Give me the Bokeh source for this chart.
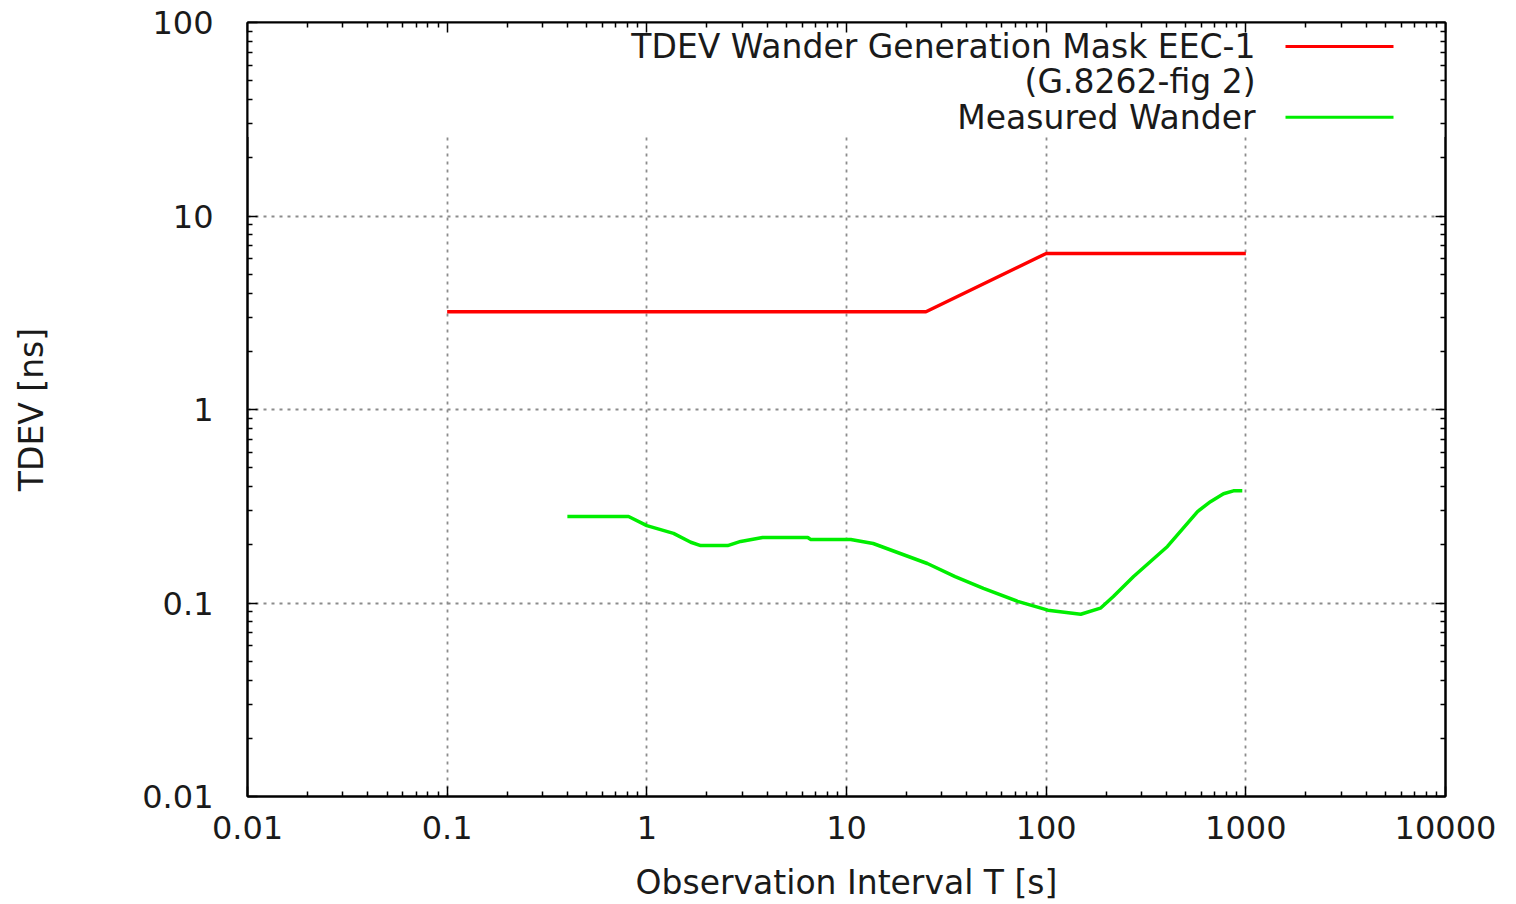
from bokeh.plotting import figure
from bokeh.models import Range1d, FixedTicker, LogAxis, CustomJSTickFormatter, Label, Arrow, BoxAnnotation
from bokeh.embed import file_html
from bokeh.resources import INLINE
import math

# ---- data ----
x_ticks = [0.01, 0.1, 1, 10, 100, 1000, 10000]
y_ticks = [0.01, 0.1, 1, 10, 100]

mask_label = "TDEV Wander Generation Mask EEC-1"
mask_label2 = "(G.8262-fig 2)"
mask_t = [0.1, 25, 100, 1000]
mask_tdev = [3.2, 3.2, 6.4, 6.4]

meas_label = "Measured Wander"
meas_t = [0.4, 0.81, 1.0, 1.36, 1.66, 1.86, 2.54, 2.95, 3.8, 6.4, 6.6, 10.5, 13.6,
          25.4, 35, 48.5, 72, 102, 149, 187, 217, 274, 405, 573, 665, 773, 867, 960]
meas_tdev = [0.28, 0.28, 0.251, 0.229, 0.206, 0.198, 0.198, 0.208, 0.218, 0.218, 0.213,
             0.213, 0.203, 0.160, 0.137, 0.119, 0.102, 0.0918, 0.0875, 0.094, 0.108,
             0.137, 0.196, 0.297, 0.334, 0.367, 0.380, 0.380]

FONT = "DejaVu Sans"
TXT = "#1a1a1a"
TICK_FS = "32px"
LAB_FS = "33px"

p = figure(width=1516, height=904, x_axis_type="log", y_axis_type="log",
           x_range=Range1d(0.01, 10000), y_range=Range1d(0.01, 100),
           output_backend="svg", toolbar_location=None,
           min_border_left=247, min_border_right=71, min_border_top=22, min_border_bottom=105)
p.background_fill_color = "white"
p.border_fill_color = "white"
p.outline_line_color = "black"
p.outline_line_width = 2

def minors(majors):
    out = []
    for m in majors[:-1]:
        out += [m * k for k in range(2, 10)]
    return out

fmt = CustomJSTickFormatter(code="return tick < 1 ? tick.toString() : tick.toFixed(0);")
blank = CustomJSTickFormatter(code="return '';")

def style_axis(ax, ticks, labels=True):
    ax.ticker = FixedTicker(ticks=ticks, minor_ticks=minors(ticks))
    ax.axis_line_color = "black"
    ax.axis_line_width = 2
    ax.major_tick_in = 10
    ax.major_tick_out = 0
    ax.minor_tick_in = 5
    ax.minor_tick_out = 0
    ax.major_tick_line_color = "black"
    ax.minor_tick_line_color = "black"
    ax.major_tick_line_width = 1.5
    ax.minor_tick_line_width = 1.5
    ax.major_label_text_font = FONT
    ax.major_label_text_font_size = TICK_FS if labels else "0px"
    ax.major_label_text_color = TXT
    ax.formatter = fmt if labels else blank
    ax.axis_label_text_font = FONT
    ax.axis_label_text_font_size = LAB_FS
    ax.axis_label_text_font_style = "normal"
    ax.axis_label_text_color = TXT

style_axis(p.xaxis[0], x_ticks)
style_axis(p.yaxis[0], y_ticks)
p.xaxis[0].axis_label = "Observation Interval T [s]"
p.yaxis[0].axis_label = "TDEV [ns]"
p.xaxis[0].major_label_standoff = 19
p.xaxis[0].axis_label_standoff = 21
p.yaxis[0].major_label_standoff = 34
p.yaxis[0].axis_label_standoff = 88

top_ax = LogAxis()
right_ax = LogAxis()
style_axis(top_ax, x_ticks, labels=False)
style_axis(right_ax, y_ticks, labels=False)
top_ax.major_label_standoff = 0
right_ax.major_label_standoff = 0
p.add_layout(top_ax, "above")
p.add_layout(right_ax, "right")

p.xgrid[0].ticker = FixedTicker(ticks=x_ticks)
p.ygrid[0].ticker = FixedTicker(ticks=y_ticks)
for g in (p.xgrid[0], p.ygrid[0]):
    g.grid_line_color = "#8c8c8c"
    g.grid_line_width = 1.8
    g.grid_line_dash = "3 5"

# ---- legend helpers ----
def fx(frac):  # fraction of frame width -> log data x
    lo, hi = math.log10(0.01), math.log10(10000)
    return 10 ** (lo + frac * (hi - lo))

def fy(frac):  # fraction of frame height (from bottom) -> log data y
    lo, hi = math.log10(0.01), math.log10(100)
    return 10 ** (lo + frac * (hi - lo))

# opaque key area: grid lines stop below the key, as in the original
p.add_layout(BoxAnnotation(bottom=fy((799 - 137) / 777), fill_color="white", fill_alpha=1.0,
                           line_color=None, level="underlay"))

p.line(mask_t, mask_tdev, line_color="#ff0000", line_width=3.5)
p.line(meas_t, meas_tdev, line_color="#00ee00", line_width=3.5)

text_right = fx((1255 - 247) / 1198)
s0, s1 = fx((1285 - 247) / 1198), fx((1393 - 247) / 1198)
rows = [(mask_label, (799 - 46) / 777, "#ff0000"),
        (mask_label2, (799 - 81) / 777, None),
        (meas_label, (799 - 117) / 777, "#00ee00")]
for txt, yf, col in rows:
    p.add_layout(Label(x=text_right, y=fy(yf), text=txt, text_align="right",
                       text_baseline="middle", text_font=FONT, text_font_size=LAB_FS,
                       text_color=TXT))
    if col:
        p.add_layout(Arrow(end=None, x_start=s0, y_start=fy(yf), x_end=s1, y_end=fy(yf),
                           line_color=col, line_width=3))

open("out.html", "w").write(file_html(p, INLINE))
